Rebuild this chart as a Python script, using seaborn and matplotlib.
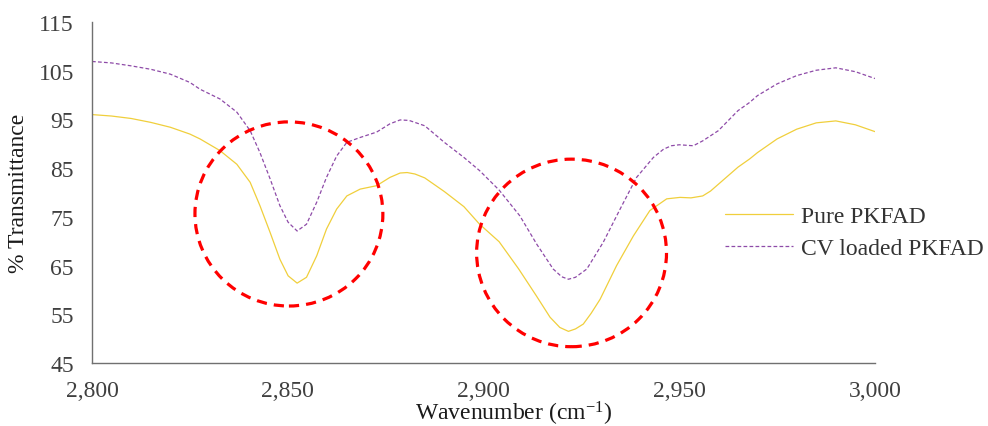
import matplotlib
matplotlib.use("Agg")
import matplotlib.pyplot as plt
import matplotlib.ticker as mticker
from matplotlib.patches import Ellipse
import seaborn as sns
import pandas as pd

# ---- data ----
pure_x = [2800, 2805, 2810, 2815, 2820, 2825, 2827.6, 2832.7, 2837, 2840.4, 2842.9,
          2845.5, 2848, 2850.1, 2852.4, 2854.8, 2857.4, 2859.9, 2862.5, 2865.1,
          2868.5, 2872.7, 2876.1, 2878.7, 2880.5, 2882.5, 2885, 2890, 2895, 2899,
          2904, 2909, 2913.5, 2917, 2919.5, 2921.7, 2923.5, 2925.5, 2927.5, 2929.8,
          2934, 2938.3, 2942.5, 2946.8, 2950.2, 2953, 2956, 2958, 2960, 2965, 2968,
          2970, 2975, 2980, 2985, 2990, 2995, 3000]
pure_y = [96.0, 95.7, 95.2, 94.4, 93.4, 92.0, 91.0, 88.6, 85.8, 82.1, 77.3,
          71.8, 66.3, 62.9, 61.4, 62.6, 67.0, 72.5, 76.6, 79.3,
          80.7, 81.4, 83.1, 84.0, 84.1, 83.8, 83.0, 80.2, 77.1, 73.5,
          69.9, 64.3, 58.8, 54.4, 52.3, 51.5, 52.0, 53.0, 55.2, 58.1,
          65.0, 71.1, 76.3, 78.7, 79.0, 78.9, 79.3, 80.3, 81.7, 85.2, 86.9,
          88.2, 91.0, 93.0, 94.3, 94.7, 93.9, 92.5]

cv_x = [2800, 2805, 2810, 2815, 2820, 2825, 2827.6, 2832.7, 2837, 2840.4, 2842.9,
        2845.5, 2848, 2850.1, 2852.4, 2854.8, 2857.4, 2859.9, 2862.5, 2865.1,
        2868.5, 2872.7, 2876.1, 2878.7, 2881, 2885, 2890, 2895, 2899, 2904,
        2909.3, 2913.6, 2917.8, 2920, 2921.7, 2923.5, 2926.4, 2930.6, 2934.9,
        2939.1, 2943.4, 2946, 2948, 2950, 2953.6, 2956, 2960, 2965, 2968, 2970,
        2975, 2980, 2985, 2990, 2995, 3000]
cv_y = [106.9, 106.6, 106.0, 105.3, 104.3, 102.6, 101.2, 99.2, 96.5, 92.7, 88.2,
        82.8, 77.3, 73.9, 72.1, 73.5, 78.0, 83.1, 87.5, 90.3,
        91.3, 92.4, 94.1, 94.9, 94.8, 93.7, 90.3, 87.2, 84.5, 80.5,
        75.2, 69.4, 64.3, 62.7, 62.2, 62.6, 64.3, 69.8, 76.6,
        83.1, 87.2, 88.9, 89.6, 89.8, 89.6, 90.6, 92.7, 96.8, 98.5, 99.9,
        102.3, 104.0, 105.1, 105.6, 104.8, 103.4]

series_labels = ["Pure PKFAD", "CV loaded PKFAD"]
y_ticks = [45, 55, 65, 75, 85, 95, 105, 115]
x_ticks = [2800, 2850, 2900, 2950, 3000]

# highlight circles (center x, center y, width, height) in data units
circle_cx = [2850.3, 2922.5]
circle_cy = [75.6, 67.6]
circle_w = [48.0, 48.5]
circle_h = [37.8, 38.5]

# ---- styling ----
sns.set_theme(style="white")
plt.rcParams["font.family"] = ["Liberation Serif", "DejaVu Serif"]
plt.rcParams["mathtext.fontset"] = "custom"
plt.rcParams["mathtext.rm"] = "Liberation Serif"
plt.rcParams["mathtext.it"] = "Liberation Serif:italic"

fig = plt.figure(figsize=(9.88, 4.27), dpi=100)
ax = fig.add_axes([0.0931, 0.1475, 0.7925, 0.7986])

df_pure = pd.DataFrame({"x": pure_x, "y": pure_y})
df_cv = pd.DataFrame({"x": cv_x, "y": cv_y})

sns.lineplot(data=df_pure, x="x", y="y", ax=ax, color="#F0CF3C", lw=0.9,
             label=series_labels[0], sort=False)
sns.lineplot(data=df_cv, x="x", y="y", ax=ax, color="#8E4BA8", lw=0.9,
             ls=(0, (3, 1.8)), label=series_labels[1], sort=False)

for cx, cy, w, h in zip(circle_cx, circle_cy, circle_w, circle_h):
    ax.add_patch(Ellipse((cx, cy), w, h, fill=False, edgecolor="#FF0000",
                         lw=2.3, ls=(0, (3.2, 2.2)), zorder=5))

ax.set_xlim(2800, 3000)
ax.set_ylim(45, 115)
ax.set_xticks(x_ticks)
ax.set_yticks(y_ticks)
ax.xaxis.set_major_formatter(mticker.FuncFormatter(lambda v, p: f"{v:,.0f}"))
ax.tick_params(axis="both", length=0, labelsize=17, colors="#404040")
ax.tick_params(axis="y", pad=13)
ax.tick_params(axis="x", pad=12)

for s in ["top", "right"]:
    ax.spines[s].set_visible(False)
for s in ["left", "bottom"]:
    ax.spines[s].set_color("#707070")
    ax.spines[s].set_linewidth(1.0)

ax.set_xlabel("Wavenumber (cm$^{\\mathregular{-1}}$)", fontsize=17, color="#1a1a1a")
ax.set_ylabel("% Transmittance", fontsize=17, color="#1a1a1a")
ax.xaxis.set_label_coords(0.538, -0.106)
ax.yaxis.set_label_coords(-0.080, 0.5)

leg = ax.legend(loc="center left", bbox_to_anchor=(0.7338, 0.4536),
                bbox_transform=fig.transFigure, frameon=False, fontsize=17,
                handlelength=2.9, handletextpad=0.3, labelspacing=0.45,
                borderpad=0, borderaxespad=0)
for t in leg.get_texts():
    t.set_color("#333333")

fig.savefig("out.png", dpi=100)
